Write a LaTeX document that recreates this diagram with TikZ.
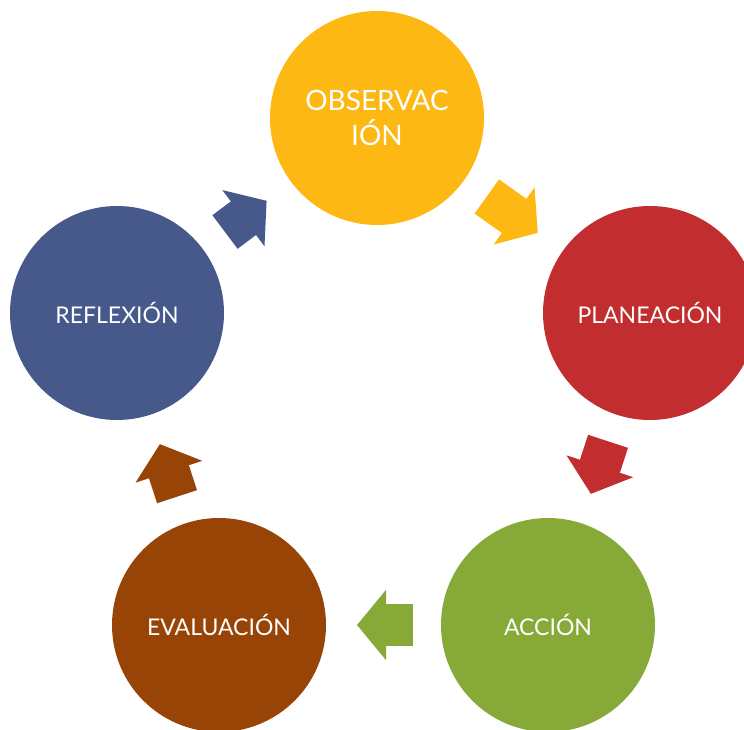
\documentclass[tikz,border=0pt]{standalone}
\usepackage{fontspec}
\setmainfont{Lato}
\usepackage{tikz}
\usetikzlibrary{arrows.meta}
\definecolor{amarillo}{HTML}{FDB813}
\definecolor{rojo}{HTML}{C22D30}
\definecolor{verde}{HTML}{87A937}
\definecolor{cafe}{HTML}{974406}
\definecolor{azul}{HTML}{47598B}
\tikzstyle{fase} = [circle, minimum size=214pt, inner sep=0pt, outer sep=0pt, text=white, align=center, font=\fontsize{23}{35}\selectfont]
\tikzstyle{flecha} = [line width=42pt, shorten <=28pt, shorten >=31pt, -{Triangle[length=29pt, width=70pt, line width=1.5pt 0 0]}]

\begin{document}
\begin{tikzpicture}[x=1pt, y=-1pt]
		\clip (0,0) rectangle (744,730);
		\node[fase, fill=amarillo, font=\fontsize{28}{35}\selectfont](obs) at (377,118) {OBSERVAC\\IÓN};
		\node[fase, fill=rojo](plan) at (650,313) {PLANEACIÓN};
		\node[fase, fill=verde](accion) at (548,625) {ACCIÓN};
		\node[fase, fill=cafe](eval) at (219,625) {EVALUACIÓN};
		\node[fase, fill=azul](refl) at (117,313) {REFLEXIÓN};
		\draw[flecha, draw=amarillo] (obs) -- (plan);
		\draw[flecha, draw=rojo] (plan) -- (accion);
		\draw[flecha, draw=verde] (accion) -- (eval);
		\draw[flecha, draw=cafe] (eval) -- (refl);
		\draw[flecha, draw=azul] (refl) -- (obs);
	\end{tikzpicture}
\end{document}
